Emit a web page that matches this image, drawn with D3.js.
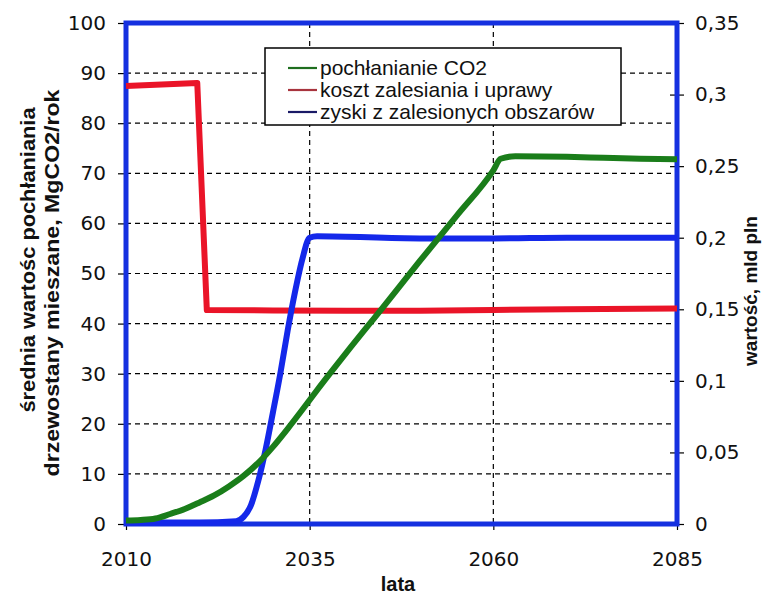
<!DOCTYPE html>
<html>
<head>
<meta charset="utf-8">
<script src="https://cdn.jsdelivr.net/npm/d3@7"></script>
<style>
body { margin: 0; background: #fff; }
</style>
</head>
<body>
<div id="chart"></div>
<script>
// pochłanianie CO2 (lewa oś, MgCO2/rok)
const co2Years = [2010, 2012, 2014, 2016, 2018, 2020, 2022, 2024, 2026, 2028, 2030, 2032, 2034, 2036, 2040, 2045, 2050, 2055, 2060, 2061, 2063, 2070, 2075, 2080, 2085];
const co2Values = [0.7, 0.8, 1.1, 2.0, 3.0, 4.3, 5.7, 7.5, 9.6, 12.2, 15.4, 19.0, 22.8, 26.7, 34.2, 43.3, 52.5, 61.5, 70.6, 72.9, 73.4, 73.3, 73.1, 72.9, 72.8];

// koszt zalesiania i uprawy (prawa oś, mld pln)
const costYears = [2010, 2019.7, 2021.0, 2030, 2040, 2050, 2060, 2070, 2085];
const costValues = [0.306, 0.308, 0.1495, 0.1492, 0.149, 0.149, 0.1495, 0.150, 0.1505];

// zyski z zalesionych obszarów (prawa oś, mld pln)
const gainYears = [2010, 2020, 2025, 2026, 2027, 2028, 2029, 2030, 2031, 2032, 2033, 2034, 2035, 2036, 2050, 2060, 2070, 2085];
const gainValues = [0.001, 0.001, 0.002, 0.005, 0.013, 0.03, 0.052, 0.078, 0.105, 0.135, 0.162, 0.185, 0.2, 0.201, 0.1995, 0.1995, 0.2, 0.2];

const xTicks = [2010, 2035, 2060, 2085];
const leftTicks = [0, 10, 20, 30, 40, 50, 60, 70, 80, 90, 100];
const rightTicks = [0, 0.05, 0.1, 0.15, 0.2, 0.25, 0.3, 0.35];
const rightTickLabels = ["0", "0,05", "0,1", "0,15", "0,2", "0,25", "0,3", "0,35"];

const seriesNames = ["pochłanianie CO2", "koszt zalesiania i uprawy", "zyski z zalesionych obszarów"];

const W = 769, H = 595;
const margin = { top: 23, right: 92, bottom: 71, left: 126 };
const width = W - margin.left - margin.right,
      height = H - margin.top - margin.bottom;

const svg = d3.select("#chart").append("svg")
    .attr("width", W).attr("height", H);
const g = svg.append("g")
    .attr("transform", `translate(${margin.left},${margin.top})`);

const x = d3.scaleLinear().domain([2010, 2085]).range([0, width]);
const yL = d3.scaleLinear().domain([0, 100]).range([height, 0]);
const yR = d3.scaleLinear().domain([0, 0.35]).range([height, 0]);

const tickFont = "'DejaVu Sans', sans-serif";

// siatka
g.append("g").selectAll("line")
    .data(leftTicks.slice(1, -1))
    .join("line")
    .attr("x1", 0).attr("x2", width)
    .attr("y1", d => yL(d)).attr("y2", d => yL(d))
    .attr("stroke", "#000").attr("stroke-width", 1.2)
    .attr("stroke-dasharray", "5,4");
g.append("g").selectAll("line")
    .data(xTicks.slice(1, -1))
    .join("line")
    .attr("x1", d => x(d)).attr("x2", d => x(d))
    .attr("y1", 0).attr("y2", height)
    .attr("stroke", "#000").attr("stroke-width", 1.2)
    .attr("stroke-dasharray", "5,4");

// osie
const axL = g.append("g")
    .call(d3.axisLeft(yL).tickValues(leftTicks).tickSize(8).tickPadding(12));
const axR = g.append("g")
    .attr("transform", `translate(${width},0)`)
    .call(d3.axisRight(yR).tickValues(rightTicks).tickSize(7).tickPadding(11)
        .tickFormat((d, i) => rightTickLabels[i]));
axR.selectAll(".tick line").attr("x1", -7);
const axB = g.append("g")
    .attr("transform", `translate(0,${height})`)
    .call(d3.axisBottom(x).tickValues(xTicks).tickSize(6).tickPadding(22)
        .tickFormat(d3.format("d")));

[axL, axR, axB].forEach(a => {
    a.select(".domain").remove();
    a.selectAll(".tick line").attr("stroke", "#000").attr("stroke-width", 1.2);
    a.selectAll("text")
        .style("font-family", tickFont)
        .style("font-size", "20px")
        .attr("fill", "#111");
});

// ramka
g.append("rect")
    .attr("x", 0).attr("y", 0)
    .attr("width", width).attr("height", height)
    .attr("fill", "none")
    .attr("stroke", "#1530e0")
    .attr("stroke-width", 5);

// linie
const lineR = d3.line().x(d => x(d[0])).y(d => yR(d[1]));
const lineRs = d3.line().x(d => x(d[0])).y(d => yR(d[1])).curve(d3.curveMonotoneX);
const lineL = d3.line().x(d => x(d[0])).y(d => yL(d[1])).curve(d3.curveMonotoneX);

g.append("path")
    .datum(d3.zip(costYears, costValues))
    .attr("d", lineR)
    .attr("fill", "none").attr("stroke", "#ea1428")
    .attr("stroke-width", 6).attr("stroke-linejoin", "round");

g.append("path")
    .datum(d3.zip(gainYears, gainValues))
    .attr("d", lineRs)
    .attr("fill", "none").attr("stroke", "#1428ea")
    .attr("stroke-width", 6).attr("stroke-linejoin", "round");

g.append("path")
    .datum(d3.zip(co2Years, co2Values))
    .attr("d", lineL)
    .attr("fill", "none").attr("stroke", "#1a7d1a")
    .attr("stroke-width", 6).attr("stroke-linejoin", "round");

// legenda
const legend = svg.append("g");
legend.append("rect")
    .attr("x", 265).attr("y", 48)
    .attr("width", 356).attr("height", 77)
    .attr("fill", "#fff").attr("stroke", "#000").attr("stroke-width", 1.5);
const legendColors = ["#1f6e1f", "#a8343e", "#1a1a66"];
seriesNames.forEach((name, i) => {
    const cy = 68 + i * 22;
    legend.append("line")
        .attr("x1", 288).attr("x2", 317)
        .attr("y1", cy).attr("y2", cy)
        .attr("stroke", legendColors[i]).attr("stroke-width", 2.2);
    legend.append("text")
        .attr("x", 320).attr("y", cy + 7)
        .style("font-family", "Arial, 'Liberation Sans', sans-serif")
        .style("font-size", "21px")
        .attr("fill", "#111")
        .text(name);
});

// tytuły osi
const title = svg.append("g")
    .style("font-family", "Arial, 'Liberation Sans', sans-serif")
    .style("font-weight", "bold")
    .attr("fill", "#111");

title.append("text")
    .attr("transform", "translate(35,260) rotate(-90)")
    .attr("text-anchor", "middle")
    .style("font-size", "21px")
    .attr("textLength", 305).attr("lengthAdjust", "spacingAndGlyphs")
    .text("średnia wartośc pochłaniania");
title.append("text")
    .attr("transform", "translate(59,283) rotate(-90)")
    .attr("text-anchor", "middle")
    .style("font-size", "21px")
    .attr("textLength", 387).attr("lengthAdjust", "spacingAndGlyphs")
    .text("drzewostany mieszane, MgCO2/rok");
title.append("text")
    .attr("transform", "translate(757,291) rotate(-90)")
    .attr("text-anchor", "middle")
    .style("font-size", "19px")
    .text("wartość, mld pln");
title.append("text")
    .attr("x", 398).attr("y", 591)
    .attr("text-anchor", "middle")
    .style("font-size", "20px")
    .text("lata");
</script>
</body>
</html>
